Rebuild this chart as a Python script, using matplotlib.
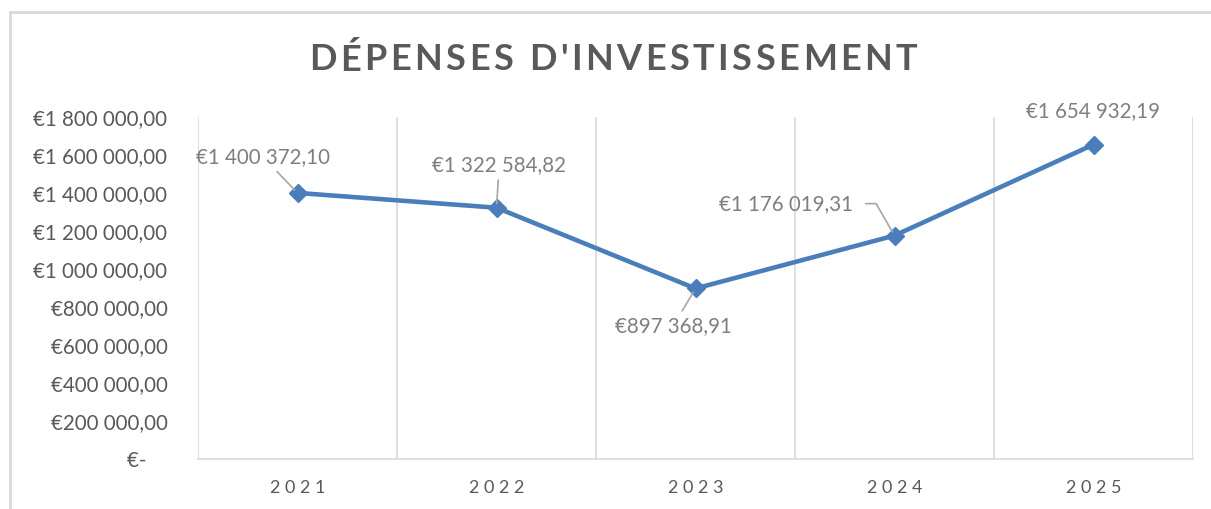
"""Line chart of yearly investment spending (Excel-like style)."""

import matplotlib

matplotlib.use("Agg")
import matplotlib.pyplot as plt
from matplotlib.lines import Line2D
from matplotlib.ticker import FuncFormatter, MultipleLocator

plt.rcParams["font.family"] = ["Lato", "DejaVu Sans"]

years = ["2021", "2022", "2023", "2024", "2025"]
spending = [1400372.10, 1322584.82, 897368.91, 1176019.31, 1654932.19]
title = "DÉPENSES D'INVESTISSEMENT"

# label offsets in points (dx, dy) relative to each marker
label_offsets = [(-25, 26), (2, 31), (-16, -27), (-78, 23), (0, 24)]
leader = [True, True, True, True, False]

BLUE = "#4a7ebb"
DARK = "#595959"
LABEL = "#7f7f7f"
GRID = "#d9d9d9"


def euro(v, _pos=None):
    if v == 0:
        return "€-    "
    whole = f"{v:,.2f}".replace(",", " ").replace(".", ",")
    return f"€{whole}"


def spaced_text(fig, x_center, y, s, spacing, **kw):
    """Draw text with extra letter spacing (in pixels), centred on x_center."""
    renderer = fig.canvas.get_renderer()
    widths = []
    for ch in s:
        t = fig.text(0, 0, ch, **kw)
        widths.append(t.get_window_extent(renderer).width)
        t.remove()
    total = sum(widths) + spacing * (len(s) - 1)
    fw = fig.bbox.width
    x = x_center * fw - total / 2
    for ch, w in zip(s, widths):
        fig.text(x / fw, y, ch, ha="left", va="center", **kw)
        x += w + spacing


W, H = 1211, 509
fig = plt.figure(figsize=(W / 100, H / 100), dpi=100)
ax = fig.add_axes([198 / W, (H - 459) / H, (1193 - 198) / W, (459 - 117) / H])

x = list(range(1, len(years) + 1))
ax.plot(x, spending, color=BLUE, lw=3.3, marker="D", ms=9, zorder=3)

ax.set_xlim(0.5, len(years) + 0.5)
ax.set_ylim(0, 1800000)
ax.yaxis.set_major_locator(MultipleLocator(200000))
ax.yaxis.set_major_formatter(FuncFormatter(euro))
ax.set_xticks(x)
ax.set_xticklabels([" ".join(y) for y in years])

# vertical separators between categories
for b in [i + 0.5 for i in range(len(years) + 1)]:
    ax.axvline(b, color=GRID, lw=1.2, zorder=1)

for side in ["top", "right", "left"]:
    ax.spines[side].set_visible(False)
ax.spines["bottom"].set_color(GRID)
ax.spines["bottom"].set_linewidth(1.2)
ax.tick_params(axis="y", length=0, pad=22, labelsize=14.8, labelcolor=DARK)
ax.tick_params(axis="x", length=0, pad=15, labelsize=13, labelcolor=DARK)

for i, (xi, v, (dx, dy), has_line) in enumerate(zip(x, spending, label_offsets, leader)):
    arrow = None
    if has_line:
        arrow = dict(arrowstyle="-", color="#a6a6a6", lw=1.2, shrinkA=2, shrinkB=3)
        if i == 3:
            # elbow leader: horizontal out of the label, then down to the marker
            arrow.update(relpos=(1, 0.5), shrinkA=7,
                         connectionstyle="angle,angleA=0,angleB=120,rad=0")
    ax.annotate(
        euro(v), (xi, v), xytext=(dx, dy), textcoords="offset points",
        ha="center", va="center", fontsize=14.8, color=LABEL,
        arrowprops=arrow, zorder=4,
    )

spaced_text(fig, 613 / W, 1 - 60 / H, title, 3.5,
            fontsize=26, fontweight="bold", color=DARK)

# chart area border (cropped at right and bottom)
fig.add_artist(Line2D([10 / W, 10 / W], [0, 1 - 12 / H], color=GRID, lw=2))
fig.add_artist(Line2D([10 / W, 1], [1 - 12 / H, 1 - 12 / H], color=GRID, lw=2))

fig.savefig("out.png", dpi=100)
